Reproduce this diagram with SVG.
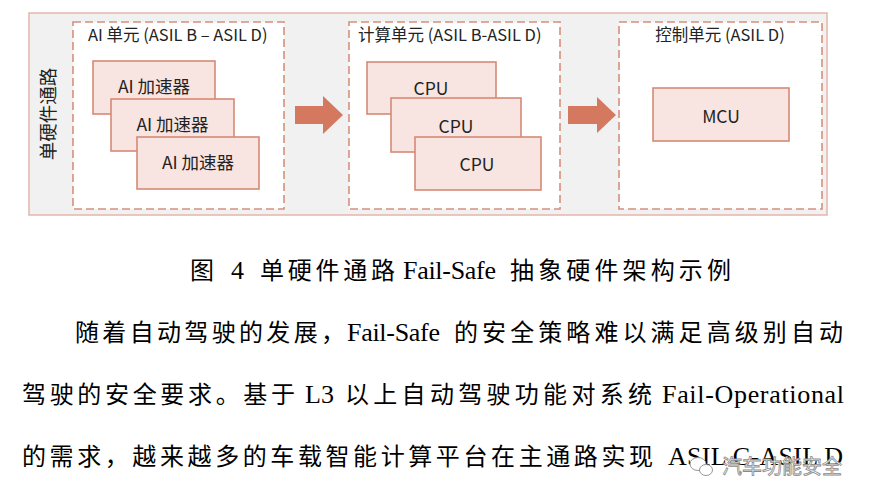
<svg xmlns="http://www.w3.org/2000/svg" width="880" height="504" viewBox="0 0 880 504">
<style>
.outer{fill:#f1f1f1;stroke:#e4b5aa;stroke-width:1.5}
.unit{fill:#ffffff;stroke:#d5907d;stroke-width:1.6;stroke-dasharray:8 4}
.blk{fill:#f8e4e0;stroke:#d58a77;stroke-width:1.6}
.arrow{fill:#d4785f}
.t{font-family:"Noto Sans CJK SC","Noto Sans",sans-serif;fill:#222222}
.title{font-size:16.5px}
.lbl{font-size:17.5px;text-anchor:middle}
.body{font-family:"Liberation Serif","Noto Sans CJK SC",serif;font-size:24px;fill:#000000}
.lat{font-size:26px}
.wm{font-family:"Noto Sans CJK SC",sans-serif;font-size:20px;fill:#ffffff;stroke:#8a8a8a;stroke-width:0.8}
</style>
<rect width="880" height="504" fill="#ffffff"/>
<g id="path-frame">
<rect class="outer" x="29" y="13" width="798" height="202"/>
<text class="t" font-size="18.5" text-anchor="middle" dominant-baseline="central" transform="translate(47,114) rotate(-90)">单硬件通路</text>
</g>
<g id="ai-unit">
<rect class="unit" x="73" y="22" width="211" height="187"/>
<text class="t title" x="88" y="41">AI 单元 (ASIL B – ASIL D)</text>
</g>
<g id="compute-unit">
<rect class="unit" x="349" y="22" width="211" height="187"/>
<text class="t title" x="358" y="41">计算单元 (ASIL B-ASIL D)</text>
</g>
<g id="control-unit">
<rect class="unit" x="619" y="22" width="203" height="187"/>
<text class="t title" x="720" y="41" text-anchor="middle">控制单元 (ASIL D)</text>
</g>
<g id="connectors">
<polygon class="arrow" points="295,106 323,106 323,96 343,115 323,134 323,124 295,124"/>
<polygon class="arrow" points="568,106 597,106 597,97 616,115 597,133 597,124 568,124"/>
</g>
<g id="ai-acc-1">
<rect class="blk" x="93" y="61" width="122" height="53"/>
<text class="t lbl" x="154" y="93">AI 加速器</text>
</g>
<g id="ai-acc-2">
<rect class="blk" x="111" y="99" width="123" height="52"/>
<text class="t lbl" x="172.5" y="131">AI 加速器</text>
</g>
<g id="ai-acc-3">
<rect class="blk" x="137" y="137" width="122" height="52"/>
<text class="t lbl" x="198" y="169">AI 加速器</text>
</g>
<g id="cpu-1">
<rect class="blk" x="367" y="62" width="129" height="52"/>
<text class="t lbl" font-size="20" x="431" y="95">CPU</text>
</g>
<g id="cpu-2">
<rect class="blk" x="391" y="98" width="130" height="54"/>
<text class="t lbl" font-size="20" x="456" y="133">CPU</text>
</g>
<g id="cpu-3">
<rect class="blk" x="415" y="137" width="126" height="53"/>
<text class="t lbl" font-size="20" x="477" y="171">CPU</text>
</g>
<g id="mcu">
<rect class="blk" x="653" y="88" width="136" height="53"/>
<text class="t lbl" font-size="21.5" x="721" y="122.5">MCU</text>
</g>
<g id="caption">
<text class="body" x="190" y="279">图</text>
<text class="body lat" x="231" y="279">4</text>
<text class="body" x="260" y="279" textLength="135" lengthAdjust="spacing">单硬件通路</text>
<text class="body lat" x="403" y="279" textLength="93" lengthAdjust="spacing">Fail-Safe</text>
<text class="body" x="510" y="279" textLength="221" lengthAdjust="spacing">抽象硬件架构示例</text>
</g>
<g id="paragraph">
<text class="body" x="75" y="341" textLength="270" lengthAdjust="spacing">随着自动驾驶的发展，</text>
<text class="body lat" x="347" y="341" textLength="93" lengthAdjust="spacing">Fail-Safe</text>
<text class="body" x="454" y="341" textLength="389" lengthAdjust="spacing">的安全策略难以满足高级别自动</text>
<text class="body" x="22" y="403" textLength="273" lengthAdjust="spacing">驾驶的安全要求。基于</text>
<text class="body lat" x="305" y="403" textLength="29" lengthAdjust="spacing">L3</text>
<text class="body" x="345" y="403" textLength="307" lengthAdjust="spacing">以上自动驾驶功能对系统</text>
<text class="body lat" x="662" y="403" textLength="182" lengthAdjust="spacing">Fail-Operational</text>
<text class="body" x="22" y="465" textLength="631" lengthAdjust="spacing">的需求，越来越多的车载智能计算平台在主通路实现</text>
<text class="body lat" x="668" y="465" textLength="175" lengthAdjust="spacing">ASIL C-ASIL D</text>
</g>
<g id="watermark">
<ellipse cx="698" cy="464" rx="8" ry="6.5" fill="#ffffff" stroke="#8a8a8a" stroke-width="0.9"/>
<ellipse cx="706" cy="470" rx="6.5" ry="5.5" fill="#ffffff" stroke="#8a8a8a" stroke-width="0.9"/>
<text class="wm" x="722" y="474">汽车功能安全</text>
</g>
</svg>
